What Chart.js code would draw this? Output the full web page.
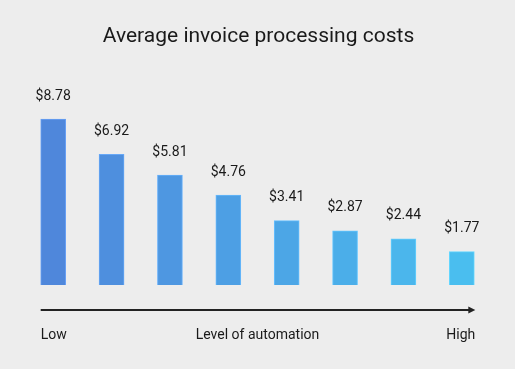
<!DOCTYPE html>
<html>
<head>
<meta charset="utf-8">
<script src="https://cdn.jsdelivr.net/npm/chart.js@4"></script>
<style>
  html, body { margin: 0; padding: 0; background: #ededed; }
  #wrap { width: 515px; height: 369px; }
</style>
</head>
<body>
<div id="wrap"><canvas id="grafico" width="515" height="369"></canvas></div>
<script>
// dados
const niveis = ['1', '2', '3', '4', '5', '6', '7', '8'];
const custos = [8.78, 6.92, 5.81, 4.76, 3.41, 2.87, 2.44, 1.77];
const rotulosEixo = ['Low', 'Level of automation', 'High'];
const titulo = 'Average invoice processing costs';

// cores: do azul escuro ao azul claro
const corInicio = [79, 135, 219];
const corFim = [74, 190, 239];
const cores = custos.map((v, i) => {
    const t = i / (custos.length - 1);
    const c = corInicio.map((a, k) => Math.round(a + (corFim[k] - a) * t));
    return `rgb(${c[0]}, ${c[1]}, ${c[2]})`;
});
const bordas = custos.map((v, i) => {
    const t = i / (custos.length - 1);
    const c = corInicio.map((a, k) => Math.round(a + (corFim[k] - a) * t + 25));
    return `rgb(${Math.min(c[0],255)}, ${Math.min(c[1],255)}, ${Math.min(c[2],255)})`;
});

const FONTE = 'Roboto, "Noto Sans", sans-serif';
const COR_TEXTO = '#1a1a1a';

const textosExtras = {
    id: 'textosExtras',
    afterDatasetsDraw(chart) {
        const ctx = chart.ctx;
        const meta = chart.getDatasetMeta(0);
        const area = chart.chartArea;
        ctx.save();
        ctx.fillStyle = COR_TEXTO;

        // título
        ctx.font = '21px ' + FONTE;
        ctx.textAlign = 'center';
        ctx.textBaseline = 'middle';
        ctx.fillText(titulo, chart.width / 2 + 1, 37);

        // valores acima das barras
        ctx.font = '14px ' + FONTE;
        meta.data.forEach((barra, i) => {
            ctx.fillText('$' + custos[i].toFixed(2), barra.x, barra.y - 23);
        });

        // seta do eixo
        const primeira = meta.data[0];
        const ultima = meta.data[meta.data.length - 1];
        const x0 = primeira.x - primeira.width / 2;
        const x1 = ultima.x + ultima.width / 2;
        const yLinha = 310;
        ctx.strokeStyle = '#222';
        ctx.lineWidth = 2;
        ctx.beginPath();
        ctx.moveTo(x0, yLinha);
        ctx.lineTo(x1 - 4, yLinha);
        ctx.stroke();
        ctx.beginPath();
        ctx.moveTo(x1 + 1, yLinha);
        ctx.lineTo(x1 - 6, yLinha - 3.5);
        ctx.lineTo(x1 - 6, yLinha + 3.5);
        ctx.closePath();
        ctx.fillStyle = '#222';
        ctx.fill();

        // rótulos do eixo
        ctx.fillStyle = COR_TEXTO;
        ctx.font = '14px ' + FONTE;
        ctx.textAlign = 'left';
        ctx.fillText(rotulosEixo[0], x0, 335);
        ctx.textAlign = 'center';
        ctx.fillText(rotulosEixo[1], (area.left + area.right) / 2, 335);
        ctx.textAlign = 'right';
        ctx.fillText(rotulosEixo[2], x1 + 1, 335);
        ctx.restore();
    }
};

new Chart(document.getElementById('grafico').getContext('2d'), {
    type: 'bar',
    data: {
        labels: niveis,
        datasets: [{
            data: custos,
            backgroundColor: cores,
            borderColor: bordas,
            borderWidth: 1,
            barThickness: 25
        }]
    },
    options: {
        responsive: false,
        animation: false,
        layout: { padding: { left: 24, right: 24, top: 96, bottom: 84 } },
        plugins: {
            legend: { display: false },
            title: { display: false },
            tooltip: { enabled: false }
        },
        scales: {
            x: { display: false },
            y: { display: false, min: 0, max: 10 }
        }
    },
    plugins: [textosExtras]
});
</script>
</body>
</html>
